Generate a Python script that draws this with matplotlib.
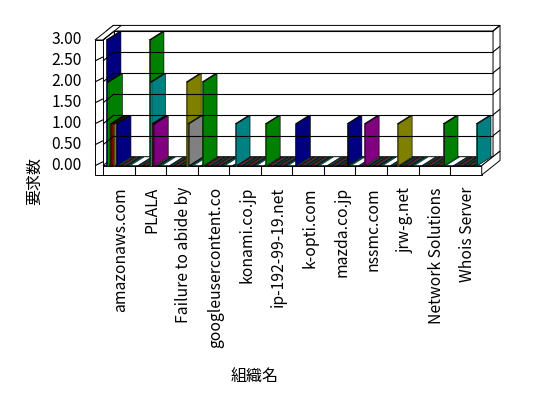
import numpy as np
import matplotlib
matplotlib.use("Agg")
import matplotlib.pyplot as plt
from matplotlib.patches import Polygon

plt.rcParams['font.family'] = ['Noto Sans CJK JP', 'DejaVu Sans']

# データ
categories = ["amazonaws.com", "PLALA", "Failure to abide by", "googleusercontent.co",
              "konami.co.jp", "ip-192-99-19.net", "k-opti.com", "mazda.co.jp",
              "nssmc.com", "jrw-g.net", "Network Solutions", "Whois Server"]
y_ticks = [0.0, 0.5, 1.0, 1.5, 2.0, 2.5, 3.0]
n_series = 17

# long format: category index, series index, count
cat_idx    = [0, 0, 0, 0, 0, 1, 1, 1, 1, 2, 2, 3, 4, 5, 6, 7, 8, 9, 10, 11]
series_idx = [0, 1, 3, 5, 7, 8, 9, 10, 11, 12, 13, 1, 2, 1, 0, 14, 4, 5, 15, 16]
counts     = [3, 2, 1, 1, 1, 3, 2, 1, 1, 2, 1, 2, 1, 1, 1, 1, 1, 1, 1, 1]

side_colors = ['#000080', '#008000', '#008080', '#800000', '#800080', '#808000', '#808080']
front_colors = ['#0000FF', '#00FF00', '#00FFFF', '#FF0000', '#FF00FF', '#FFFF00', '#C0C0C0']

values = np.zeros((len(categories), n_series))
for c, s, v in zip(cat_idx, series_idx, counts):
    values[c, s] = v

# geometry: x in category units, y in count units
px_x, px_y = 31.56, 41.9
DX, DY = 11.3 / px_x, 9.0 / px_y      # wall depth
BDX, BDY = 13.5 / px_x, 8.5 / px_y    # bar depth
wall_t = 0.62
left_t = 8.0 / px_x
floor_t = 9.3 / px_y
slot0, slot = 3.0 / px_x, 1.43 / px_x
ymax = y_ticks[-1]
n = len(categories)
zb = 1 + wall_t


def proj(x, y, z):
    return (x + z * DX, y + z * DY)


def bproj(x, y, z):
    return (x + z * BDX, y + z * BDY)


fig = plt.figure(figsize=(5.48, 3.98), dpi=100)
ax = fig.add_axes([0, 0, 1, 1])
ax.set_xlim(-103 / px_x, (548 - 103) / px_x)
ax.set_ylim((165.7 - 398) / px_y, 165.7 / px_y)
ax.axis('off')


def face(pts, fc, lw=0.7, ec='black'):
    ax.add_patch(Polygon(pts, closed=True, facecolor=fc, edgecolor=ec, linewidth=lw))


def line(p, q, lw=0.8):
    ax.plot([p[0], q[0]], [p[1], q[1]], color='black', linewidth=lw, solid_capstyle='butt')


# back wall
face([proj(0, 0, 1), proj(n, 0, 1), proj(n, ymax, 1), proj(0, ymax, 1)], 'white')
face([proj(-left_t, ymax, 1), proj(n, ymax, 1), proj(n, ymax, zb), proj(-left_t, ymax, zb)], 'white')
face([proj(n, 0, 1), proj(n, 0, zb), proj(n, ymax, zb), proj(n, ymax, 1)], 'white')
# left wall
face([proj(0, 0, 0), proj(0, 0, 1), proj(0, ymax, 1), proj(0, ymax, 0)], 'white')
face([proj(-left_t, ymax, 0), proj(0, ymax, 0), proj(0, ymax, zb), proj(-left_t, ymax, zb)], 'white')
face([(-left_t, -floor_t), (0, -floor_t), (0, ymax), (-left_t, ymax)], 'white')
# floor
face([proj(0, 0, 0), proj(n, 0, 0), proj(n, 0, 1), proj(0, 0, 1)], 'white')
face([(0, -floor_t), (n, -floor_t), (n, 0), (0, 0)], 'white')
face([proj(n, -floor_t, 0), proj(n, -floor_t, zb), proj(n, 0, zb), proj(n, 0, 0)], 'white')

# gridlines and ticks
for v in y_ticks[1:]:
    line(proj(0, v, 1), proj(n, v, 1))
    line(proj(n, v, 1), proj(n, v, zb))
    line(proj(0, v, 0), proj(0, v, 1))
for v in y_ticks[:-1]:
    line((-left_t, v), (0, v + 4.0 / px_y))
for i in range(1, n):
    line((i, -floor_t), (i, 0))

# bars, drawn left to right so later bars cover earlier side faces
for c in range(n):
    for s in range(n_series):
        v = values[c, s]
        x0 = c + slot0 + s * slot
        x1 = x0 + slot
        k = s % len(side_colors)
        if v > 0:
            face([(x0, 0), (x1, 0), (x1, v), (x0, v)], front_colors[k], lw=0.45)
            face([bproj(x1, 0, 0), bproj(x1, 0, 1), bproj(x1, v, 1), bproj(x1, v, 0)],
                 side_colors[k], lw=0.45)
            face([bproj(x0, v, 0), bproj(x1, v, 0), bproj(x1, v, 1), bproj(x0, v, 1)],
                 side_colors[k], lw=0.45)
        else:
            # flat tops of empty bars: dark speckled strip on the floor
            face([bproj(x0, 0, 0), bproj(x1, 0, 0), bproj(x1, 0, 1), bproj(x0, 0, 1)],
                 front_colors[k], lw=0.35, ec='black')

# labels
for v in y_ticks:
    ax.text(-left_t - 13 / px_x, v, f"{v:.2f}", ha='right', va='center', fontsize=11.3)
for i, name in enumerate(categories):
    ax.text(i + 0.5 + 2 / px_x, (165.7 - 187) / px_y, name, rotation=90,
            ha='center', va='top', fontsize=11.3)
ax.text((35 - 103) / px_x, (165.7 - 181) / px_y, '要求数', rotation=90,
        ha='center', va='center', fontsize=11.5)
ax.text((255 - 103) / px_x, (165.7 - 376) / px_y, '組織名',
        ha='center', va='center', fontsize=11.5)

fig.savefig("out.png", dpi=100)
